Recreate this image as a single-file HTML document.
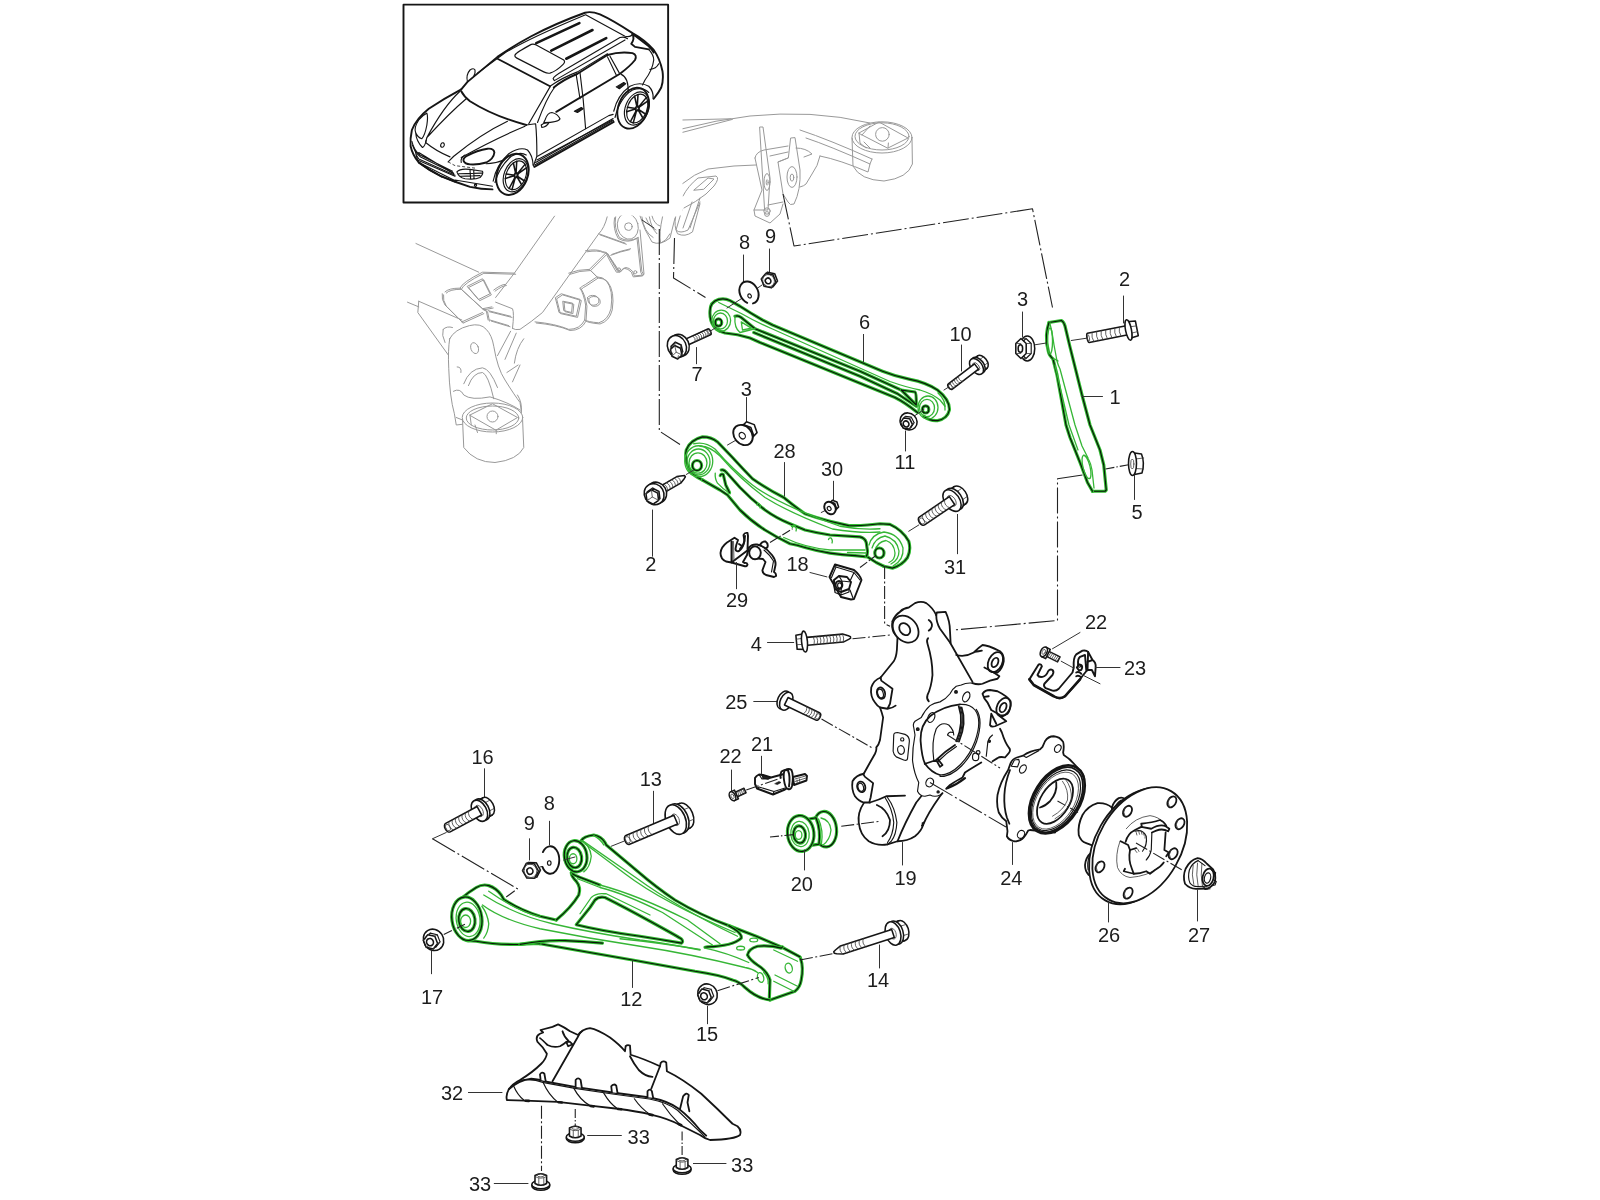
<!DOCTYPE html>
<html lang="en"><head><meta charset="utf-8"><title>Rear axle parts diagram</title><style>
html,body{margin:0;padding:0;background:#fff}
svg{display:block}
svg *{vector-effect:non-scaling-stroke}
path,ellipse,circle,line,polyline,polygon,rect{fill:none;stroke:#151515;stroke-width:1.15;stroke-linecap:round;stroke-linejoin:round}
.b{stroke-width:1.9}
.m{stroke-width:1.55}
.k{stroke-width:1.15;stroke:#0a140a}
.bb{stroke-width:2.6}
.t{stroke-width:.8;stroke:#3a3a3a}
.y{stroke:#999;stroke-width:1.0}
.G{stroke:#30bb30;stroke-width:3.2}
.I{stroke:#36b636;stroke-width:1.3}
.d{stroke:#222;stroke-width:1.1;stroke-dasharray:26 3 2 3;stroke-linecap:butt}
.d2{stroke:#222;stroke-width:1.1;stroke-dasharray:13 2.5 2 2.5;stroke-linecap:butt}
.d3{stroke:#222;stroke-width:1.1;stroke-dasharray:9 2 1.5 2;stroke-linecap:butt}
#knuckle .b,#bearing24 .b,#hub26 .b,#nut27 .b,#shield32 .b{stroke-width:1.8}
#knuckle .bb{stroke-width:2.2}
.ds{stroke:#333;stroke-width:.9;stroke-dasharray:3 2;stroke-linecap:butt}
.w{fill:#fff}
.f{fill:#222}
.ld{stroke:#333;stroke-width:1}
text{font:20px "Liberation Sans",sans-serif;fill:#1c1c1c;stroke:none;text-anchor:middle}
</style></head><body>
<svg width="1600" height="1200" viewBox="0 0 1600 1200">
<defs><filter id="gs" x="0" y="0" width="1600" height="1200" filterUnits="userSpaceOnUse" color-interpolation-filters="sRGB"><feColorMatrix type="saturate" values="0"/></filter></defs>
<rect x="0" y="0" width="1600" height="1200" style="fill:#fff;stroke:none"/>
<!-- 10_gray.svg -->
<g transform="translate(640,90) scale(0.2)">
<path class="y" d="M212,150 L455,144 M212,194 Q380,150 550,130 Q700,115 850,122 Q1000,130 1150,165 M212,212 L462,147"/>
<ellipse class="y" cx="1210" cy="237" rx="150" ry="78"/>
<ellipse class="y" cx="1210" cy="232" rx="135" ry="68"/>
<path class="y" d="M1060,240 L1065,380 Q1100,450 1220,455 Q1340,440 1362,370 L1360,240"/>
<path class="y" d="M1095,215 L1195,160 L1340,240 L1240,290 Z M1095,215 L1100,265 L1130,290 M1240,290 L1242,265 M1120,260 L1150,290 M1110,225 L1150,180"/>
<circle class="y" cx="1212" cy="222" r="34"/>
<path class="y" d="M800,200 Q950,250 1160,345 M830,240 Q950,280 1150,370 L1140,410 Q1000,350 900,330 M1150,370 L1160,345 M900,330 Q890,380 860,420 L830,470 Q820,480 800,485 M780,290 Q830,290 860,320 L820,335"/>
<path class="y" d="M600,185 L615,185 L650,440 L640,600 L625,600 Z M575,340 Q580,310 620,300 L740,280 M575,340 L610,500 L570,600 L575,630 L650,665 L700,620 L715,570 M570,600 L625,600 M640,575 L715,560 M650,330 L740,310 M690,360 L740,340"/>
<path class="y" d="M755,240 L775,238 L800,400 Q805,500 770,570 Q750,580 740,560 L715,520 L690,360 L740,340 Z"/>
<ellipse class="y" cx="760" cy="435" rx="25" ry="52"/><ellipse class="y" cx="760" cy="438" rx="9" ry="18"/>
<ellipse class="y" cx="635" cy="460" rx="15" ry="42"/><ellipse class="y" cx="636" cy="462" rx="5" ry="14"/>
<circle class="y" cx="635" cy="605" r="16"/><circle class="y" cx="635" cy="620" r="12"/>
<path class="y" d="M210,470 Q270,420 340,395 L470,380 L580,375 M270,500 L340,440 L370,445 L320,495 Z M215,530 Q240,480 290,440 L380,430 Q400,440 370,480 L330,520 Q280,560 220,590 M300,540 L250,690 M210,600 L180,700 Q200,720 240,700 L300,560 M260,560 L215,690"/>
<path class="y" d="M0,630 Q20,700 60,760 Q100,780 150,740 L175,640 M0,700 L20,920 M30,640 Q50,690 80,700 M60,630 Q70,670 100,680"/>
</g>
<g transform="translate(400,200) scale(0.1875)">
<path class="y" d="M85,232 L420,385 M40,545 L100,570 M100,540 L95,600 L260,830 M100,540 L330,640"/>
<path class="y" d="M825,85 L610,390 L510,520 M1105,90 Q1090,150 1060,180 L760,600 Q700,650 640,690 Q615,695 600,685 M510,545 L600,580 Q610,600 600,685"/>
<path class="y" d="M320,470 Q330,440 440,385 L610,390 M240,490 Q260,470 320,470 L440,580 L490,570 M360,460 L440,420 L480,500 L420,530 Z M225,500 Q220,530 240,560 L330,650 M440,580 L460,590 L470,640 M470,590 L590,620 M480,640 L580,670 M500,480 Q540,450 560,450 M330,650 L440,600"/>
<path class="y" transform="translate(7,6)" d="M320,470 Q330,440 440,385 L610,390 M240,490 Q260,470 320,470 L440,580 L490,570 M360,460 L440,420 L480,500 L420,530 Z M225,500 Q220,530 240,560 L330,650 M440,580 L460,590 L470,640 M470,590 L590,620 M480,640 L580,670 M500,480 Q540,450 560,450 M330,650 L440,600"/>
<path class="y w" d="M265,740 Q290,690 370,670 Q430,655 460,690 Q490,720 500,780 Q520,900 560,960 Q610,1040 640,1080 Q650,1120 645,1160 L300,1200 L290,1140 Q265,1050 260,900 Q255,800 265,740Z"/>
<ellipse class="y" cx="398" cy="790" rx="20" ry="30" transform="rotate(-20 398 790)"/>
<path class="y" d="M305,890 Q330,890 325,920 M340,980 Q370,900 440,895 Q480,900 520,1000 M365,990 Q390,920 440,920 Q470,930 500,1060 M285,1020 Q320,1000 340,1040 Q380,1070 480,1050 Q580,1080 640,1120 M230,690 Q220,720 240,760 M230,690 Q250,670 280,680"/>
<path class="y" d="M520,830 L590,700 M560,850 L620,710 M610,870 Q620,790 660,740 M570,920 L630,880 M600,970 L640,880"/>
<path class="y" d="M720,650 Q830,660 900,690 Q960,690 985,640 L990,560 Q980,500 960,470 M985,640 Q1000,650 1060,655 Q1110,640 1125,580 Q1140,480 1100,430 Q1080,410 1050,410 L990,450 Q970,460 960,470 M1000,520 Q1010,505 1040,510 Q1065,520 1060,545 Q1050,565 1020,560 Q1000,550 1000,520 M830,520 L860,500 L960,530 L940,620 L850,600 Z M870,540 L920,550 L915,600 L875,590Z M900,390 Q950,370 1010,370 L1050,410 M1010,370 L1100,280 M1060,180 L1200,230 M990,270 Q1050,260 1080,275 L1100,280 Q1140,340 1160,370"/>
<path class="y" transform="translate(7,6)" d="M720,650 Q830,660 900,690 Q960,690 985,640 L990,560 Q980,500 960,470 M985,640 Q1000,650 1060,655 Q1110,640 1125,580 Q1140,480 1100,430 Q1080,410 1050,410 L990,450 Q970,460 960,470 M1000,520 Q1010,505 1040,510 Q1065,520 1060,545 Q1050,565 1020,560 Q1000,550 1000,520 M830,520 L860,500 L960,530 L940,620 L850,600 Z M870,540 L920,550 L915,600 L875,590Z M900,390 Q950,370 1010,370 L1050,410 M1010,370 L1100,280 M1060,180 L1200,230 M990,270 Q1050,260 1080,275 L1100,280 Q1140,340 1160,370"/>
<ellipse class="y" cx="1215" cy="140" rx="55" ry="70" transform="rotate(-15 1215 140)"/><circle class="y" cx="1218" cy="142" r="20"/>
<path class="y" d="M1150,90 Q1140,150 1170,200 Q1220,230 1270,200 M1270,200 L1290,380 L1300,400 L1250,405 L1240,380 Q1200,340 1180,380 L1160,380 Q1130,330 1110,290 M1130,290 Q1180,270 1230,260"/>
<path class="y" transform="translate(-6,5)" d="M1150,90 Q1140,150 1170,200 Q1220,230 1270,200 M1270,200 L1290,380 L1300,400 L1250,405 L1240,380 Q1200,340 1180,380 L1160,380 Q1130,330 1110,290 M1130,290 Q1180,270 1230,260"/>
<circle class="y" cx="1168" cy="370" r="8"/><circle class="y" cx="1255" cy="385" r="8"/>
<path class="y" d="M1290,90 Q1300,170 1350,200 M1330,90 Q1340,150 1370,180 M1400,90 Q1380,180 1390,230 Q1420,220 1440,180 M1470,90 Q1460,140 1480,180 Q1520,200 1560,170 L1600,20"/>
</g>
<g transform="translate(400,200) scale(0.25)">
<path class="y w" d="M250,875 L255,990 Q300,1050 380,1050 Q470,1040 495,990 L490,870Z"/>
<ellipse class="y w" cx="370" cy="870" rx="121" ry="58"/>
<ellipse class="y" cx="370" cy="872" rx="105" ry="48"/>
<path class="y" d="M280,860 L370,815 L470,870 L385,920 Z M280,860 L285,900 M385,920 L385,935 M300,900 L310,930"/>
<circle class="y" cx="370" cy="866" r="22"/>
<path class="y" d="M225,870 L250,880 M470,780 Q490,810 485,850"/>
</g>

<!-- 20_car.svg -->
<rect x="390" y="0" width="292.5" height="215.5" style="fill:#fff;stroke:none"/>
<g transform="translate(400,0) scale(0.125)">
<rect class="b" x="28" y="37" width="2117" height="1583"/>
<path class="b" d="M490,715 L540,655 L780,455 Q900,370 1050,290 Q1250,185 1480,102 Q1530,88 1600,115 Q1700,160 1860,265 Q1960,320 2030,400 Q2080,470 2100,570 Q2110,640 2090,700 Q2070,740 2030,790"/>
<path d="M620,585 L830,430 Q1000,320 1480,120"/>
<path class="b" d="M490,730 Q510,770 560,810 Q750,930 1010,1000"/>
<path class="b" d="M780,470 L1200,690"/>
<path d="M1200,695 L1030,990 M1235,700 Q1170,790 1100,980"/>
<path d="M920,440 Q930,420 1050,355 Q1070,350 1090,360 L1310,480 Q1325,495 1305,515 Q1250,570 1200,585 Q1180,590 1150,575 L935,465 Q915,455 920,440Z"/>
<path class="bb" d="M1090,345 L1435,185 M1210,405 L1540,240 M1330,470 L1650,305"/>
<path d="M1225,630 Q1230,610 1300,570 L1760,300 Q1800,290 1820,310 M1235,645 L1800,320 M1225,630 L1235,645 M1200,690 Q1300,620 1420,575 L1660,430"/>
<path d="M1485,118 L1800,290 Q1850,300 1860,270"/>
<path class="b" d="M1860,270 Q1880,310 1850,350 L1880,375 L1990,395 M1860,270 L1990,370 Q2020,400 2030,420"/>
<path d="M1990,395 Q2030,440 2030,480 Q2020,560 1960,640 L1940,680 M2000,555 Q2050,550 2070,510"/>
<path d="M540,655 Q525,600 560,560 Q590,540 600,560 Q605,580 590,610"/>
<path class="b" d="M490,715 Q350,790 230,870 Q130,950 95,1040 Q80,1110 85,1170 Q100,1240 150,1300 Q230,1360 330,1410 Q450,1460 560,1495 Q650,1515 740,1515"/>
<path d="M215,905 Q225,930 215,1000 Q200,1080 175,1110 Q140,1100 125,1060 Q110,1020 150,960 Q180,920 215,905 M125,1060 Q130,1130 180,1180 Q200,1170 210,1120"/>
<path d="M480,730 Q350,850 215,1100 M530,790 Q400,900 215,1100 L205,1140 Q290,1210 400,1255"/>
<path d="M860,970 Q650,1070 430,1250 L385,1295 M1000,1010 Q760,1110 490,1260"/>
<path class="ds" d="M385,1295 L440,1325 L600,1345"/>
<path class="b" d="M510,1290 Q500,1270 530,1250 Q620,1200 700,1190 Q750,1185 755,1220 Q750,1270 690,1300 Q620,1320 560,1315 Q520,1310 510,1290Z"/>
<path d="M490,1300 Q480,1265 520,1240 M690,1310 Q760,1310 830,1280"/>
<path d="M95,1130 Q110,1200 160,1240 L420,1370 M150,1220 L430,1390 M140,1280 L440,1410 M120,1200 L140,1280"/>
<path d="M455,1375 Q480,1345 560,1355 L660,1370 Q670,1390 640,1420 Q600,1440 520,1430 Q470,1420 455,1375Z M470,1390 L655,1385 M480,1410 L640,1405 M560,1360 L565,1430 M590,1365 L592,1430"/>
<path d="M100,1160 Q120,1222 165,1256 L425,1382 M130,1240 L150,1272 L440,1402 M180,1322 L222,1346 M240,1360 L312,1400 M330,1412 L440,1456"/>
<path class="b" d="M150,1300 Q230,1362 330,1412"/>
<path d="M1085,1300 L1705,948 M1080,1318 L1708,962"/>
<circle cx="604" cy="1482" r="9"/>
<path d="M440,1440 L740,1490 M150,1300 L450,1450 M600,1480 L610,1470"/>
<path d="M745,1450 Q770,1320 870,1230 Q960,1170 1020,1200 Q1060,1240 1065,1320 M760,1460 Q790,1340 890,1250 Q960,1210 1010,1240"/>
<ellipse class="b" cx="900" cy="1395" rx="122" ry="170" transform="rotate(22 900 1395)"/>
<ellipse cx="925" cy="1402" rx="92" ry="138" transform="rotate(22 925 1402)"/>
<ellipse cx="928" cy="1402" rx="78" ry="120" transform="rotate(22 928 1402)"/>
<path class="m" d="M935,1408 L993,1446 M934,1410 L973,1478 M923,1416 L896,1517 M922,1415 L873,1508 M918,1404 L843,1428 M918,1402 L849,1392 M926,1390 L907,1304 M928,1389 L934,1290 M937,1392 L1000,1315 M938,1394 L1011,1343"/><ellipse class="m" cx="928" cy="1402" rx="14" ry="20" transform="rotate(22 928 1402)"/>
<path d="M1010,1000 L1085,990 Q1095,1080 1095,1250 L1070,1320"/>
<path class="w" d="M1160,960 Q1180,900 1215,900 Q1260,910 1280,950 Q1270,980 1150,980Z"/>
<path d="M1130,1000 Q1150,980 1190,985 Q1170,1015 1135,1020Z"/>
<path class="b" d="M1250,895 L1760,590 Q1840,530 1880,480 Q1900,440 1860,425 Q1760,410 1660,440 L1420,590 Q1300,640 1230,700"/>
<path d="M1410,600 L1440,790 M1440,580 Q1470,800 1485,1030 M1680,450 L1755,585 M1660,455 L1730,600 M1770,595 Q1830,620 1825,740"/>
<path d="M1710,890 Q1740,760 1840,690 Q1920,650 1990,690 Q2030,730 2025,790 M1720,940 Q1760,780 1860,720 Q1940,690 1990,740"/>
<ellipse class="b" cx="1865" cy="865" rx="118" ry="170" transform="rotate(22 1865 865)"/>
<ellipse cx="1895" cy="868" rx="92" ry="138" transform="rotate(22 1895 868)"/>
<ellipse cx="1898" cy="868" rx="78" ry="120" transform="rotate(22 1898 868)"/>
<path class="m" d="M1905,874 L1963,912 M1904,876 L1943,944 M1893,882 L1866,983 M1892,881 L1843,974 M1888,870 L1813,894 M1888,868 L1819,858 M1896,856 L1877,770 M1898,855 L1904,756 M1907,858 L1970,781 M1908,860 L1981,809"/><ellipse class="m" cx="1898" cy="868" rx="14" ry="20" transform="rotate(22 1898 868)"/>
<path d="M1100,1250 L1670,925 L1705,915 M1095,1280 L1700,960"/>
<path class="b" d="M1075,1335 L1710,975"/>
<path d="M1065,1320 L1075,1335"/>
<path class="f" d="M1395,890 L1450,860 L1465,870 L1420,900Z M1730,695 L1790,660 L1805,670 L1755,710Z"/>
<ellipse cx="340" cy="1160" rx="14" ry="18" transform="rotate(20 340 1160)"/>
</g>

<!-- 30_arms.svg -->
<g id="arm6">
<path class="w" style="stroke:none" d="M710,311 Q710,302 718.75,299.4 Q725,298 730,300.6 L740,306.25 Q752,314 762.5,320 L772.5,325 L882.5,371.25 Q895,376.25 910,379.4 Q926,382.5 937.5,390 Q950,400 949.4,410 Q947.5,418.75 937.5,420.6 Q930,421.25 923.75,416.25 L917.5,412.5 Q905,402.5 895,397.5 L760,342.5 L750,338 Q737.5,334 725,333 L720,331.25 Q716,330 713.75,326.25 Q709.4,320 710,311Z"/>
<path class="G" d="M720,331.25 Q716,330 713.75,326.25 Q709.4,320 710,311 Q710,302 718.75,299.4 Q725,298 730,300.6 L740,306.25 Q752,314 762.5,320 L772.5,325 L882.5,371.25 Q895,376.25 910,379.4 Q926,382.5 937.5,390 Q950,400 949.4,410 Q947.5,418.75 937.5,420.6 Q930,421.25 923.75,416.25"/><path class="k" d="M720,331.25 Q716,330 713.75,326.25 Q709.4,320 710,311 Q710,302 718.75,299.4 Q725,298 730,300.6 L740,306.25 Q752,314 762.5,320 L772.5,325 L882.5,371.25 Q895,376.25 910,379.4 Q926,382.5 937.5,390 Q950,400 949.4,410 Q947.5,418.75 937.5,420.6 Q930,421.25 923.75,416.25"/>
<path class="G" d="M720,331.25 L725,333 Q737.5,334 750,338 L760,342.5 L895,397.5 Q905,402.5 917.5,412.5"/><path class="k" d="M720,331.25 L725,333 Q737.5,334 750,338 L760,342.5 L895,397.5 Q905,402.5 917.5,412.5"/>
<path class="I" d="M718.75,302.5 L741.25,313.5 Q757,322.5 772.5,329 L890,381.5 Q907,387.5 920,390 Q932,393.5 940,400 L945,406.25"/>
<path class="G" d="M735,316.25 Q738,315 741.25,317.5 L755,328.75 L860,371.25 L900,389.5"/><path class="k" d="M735,316.25 Q738,315 741.25,317.5 L755,328.75 L860,371.25 L900,389.5"/>
<path class="I" d="M755,328.75 L740,332.5 Q734,328 735,316.25 M741.25,321.9 L751.25,328.1 L742.5,330Z"/>
<path class="G" d="M753.75,332.5 L860,376.25 L897.5,393.75 L916.25,406.25"/><path class="k" d="M753.75,332.5 L860,376.25 L897.5,393.75 L916.25,406.25"/>
<path class="G" d="M901.25,390 L915,392 Q916.5,393 916.25,405 Z"/><path class="k" d="M901.25,390 L915,392 Q916.5,393 916.25,405 Z"/>
<ellipse class="I" cx="721.25" cy="320.6" rx="9.4" ry="10.5"/>
<ellipse class="I" cx="720.5" cy="321" rx="7" ry="8"/>
<ellipse class="G" cx="718.5" cy="322.5" rx="3.2" ry="3.6"/><ellipse class="k" cx="718.5" cy="322.5" rx="3.2" ry="3.6"/>
<ellipse class="I" cx="928" cy="407.5" rx="10" ry="11.5"/>
<ellipse class="I" cx="927" cy="408" rx="7.5" ry="8.7"/>
<ellipse class="G" cx="925.6" cy="409.4" rx="3.2" ry="3.6"/><ellipse class="k" cx="925.6" cy="409.4" rx="3.2" ry="3.6"/>
<path class="I" d="M938,393 Q946,400 945,410"/>
</g>
<g id="arm28">
<path class="w" style="stroke:none" d="M686.25,450 Q690,440 702.5,436.9 Q711.25,436.9 717.5,441.9 L732.5,457.5 Q742,468 752.5,478.75 Q767,489 783.75,497.5 Q794,506 805,513.75 Q817,518 830,521.25 L848.75,525.6 Q858,526 867.5,525 L880,523.75 L890,524.4 Q902.5,530 908.75,541.25 Q911.25,550 907.5,557.5 Q902.5,565 892.5,568.1 L883.75,566.25 L876.25,562.5 L867.5,556.9 L855,555.6 Q842,555 830,553.1 Q817,551 805,547.5 Q797,545 790,543.75 Q776,537 765,530 Q751,521 740,510 L727.5,495 L720,490 L702.5,480 Q693.75,476.25 688.75,468.75 Q684.4,460 686.25,450Z"/>
<path class="G" d="M702.5,480 Q693.75,476.25 688.75,468.75 Q684.4,460 686.25,450 Q690,440 702.5,436.9 Q711.25,436.9 717.5,441.9 L732.5,457.5 Q742,468 752.5,478.75 Q767,489 783.75,497.5 Q794,506 805,513.75 Q817,518 830,521.25 L848.75,525.6 Q858,526 867.5,525 L880,523.75 L890,524.4 Q902.5,530 908.75,541.25 Q911.25,550 907.5,557.5 Q902.5,565 892.5,568.1 L883.75,566.25"/><path class="k" d="M702.5,480 Q693.75,476.25 688.75,468.75 Q684.4,460 686.25,450 Q690,440 702.5,436.9 Q711.25,436.9 717.5,441.9 L732.5,457.5 Q742,468 752.5,478.75 Q767,489 783.75,497.5 Q794,506 805,513.75 Q817,518 830,521.25 L848.75,525.6 Q858,526 867.5,525 L880,523.75 L890,524.4 Q902.5,530 908.75,541.25 Q911.25,550 907.5,557.5 Q902.5,565 892.5,568.1 L883.75,566.25"/>
<path class="G" d="M702.5,480 L720,490 L727.5,495 L740,510 Q751,521 765,530 Q776,537 790,543.75 Q797,545 805,547.5 Q817,551 830,553.1 Q842,555 855,555.6 L867.5,556.9 L876.25,562.5 L883.75,566.25"/><path class="k" d="M702.5,480 L720,490 L727.5,495 L740,510 Q751,521 765,530 Q776,537 790,543.75 Q797,545 805,547.5 Q817,551 830,553.1 Q842,555 855,555.6 L867.5,556.9 L876.25,562.5 L883.75,566.25"/>
<path class="G" d="M721.25,470 Q724,469 727,473 L740,487.5 Q751,499 765,510 Q776,518 790,523.75 L805,530 Q817,533 830,535 L860,536.9 Q865,538.1 866.25,542.5 L867.5,551.25 Q867.5,555 866.25,556.25"/><path class="k" d="M721.25,470 Q724,469 727,473 L740,487.5 Q751,499 765,510 Q776,518 790,523.75 L805,530 Q817,533 830,535 L860,536.9 Q865,538.1 866.25,542.5 L867.5,551.25 Q867.5,555 866.25,556.25"/>
<path class="I" d="M693.75,443.75 Q705,441 715,449 Q733,470 752.5,485 Q777,504 840,526.25 Q860,530 880,528.75"/>
<path class="I" d="M700,446.25 Q710,446 720,456 Q740,479 765,497.5 Q790,513 832.5,529 Q860,533.5 880,532"/>
<path class="I" d="M715.25,473.1 Q714.75,478.75 717.5,483.1 Q722.5,488.75 730.25,493.75"/><path class="G" d="M720.25,475.6 Q721.25,473.5 723.25,474.5 L725.75,485 L729.5,492.5"/><path class="k" d="M720.25,475.6 Q721.25,473.5 723.25,474.5 L725.75,485 L729.5,492.5"/>
<path class="I" d="M783.75,537.5 Q805,547.5 830,550 L865,550 M847.5,552.5 L866,553"/>
<ellipse class="I" cx="698.75" cy="461.25" rx="14" ry="15.5"/>
<ellipse class="I" cx="698.5" cy="462" rx="11.5" ry="13"/>
<ellipse class="I" cx="698" cy="463" rx="9" ry="10.2"/>
<ellipse class="G" cx="697" cy="465.5" rx="4.6" ry="5"/><ellipse class="k" cx="697" cy="465.5" rx="4.6" ry="5"/>
<path class="I" d="M869,545 Q872,534 884,532 Q899,534 903,548 Q904,560 893,566 M872,548 Q875,538 885,536 Q897,539 899,551 Q899,560 891,564 M875,551 Q877,542 886,540.5 Q894,543 895,553 Q895,560 889,562.5"/>
<ellipse class="G" cx="879.4" cy="553" rx="4.6" ry="5"/><ellipse class="k" cx="879.4" cy="553" rx="4.6" ry="5"/>
<path class="I" d="M757,505 Q757.5,503 759,503.5 Q761,505 760,508 M792.5,527.5 Q793,525.5 795,526 Q797,528 796,531 M828.5,539.5 Q829,537.7 831,538 Q833,540 832,543 M791.5,526.5 Q793,524.5 795,525.5"/>
</g>
<g id="arm1">
<path class="w" style="stroke:none" d="M1049,322.5 L1061.5,320.5 Q1064,322 1065,326 L1070,347 L1082,395 L1090,425 L1100,450 L1103.75,465 L1106.25,490 L1105,491.25 L1092.5,491.25 L1087.5,482.5 L1080,462.5 L1070,437.5 L1066,425 L1057,375 L1053,359 Q1049,355 1048.5,352 Q1046,343 1046.5,335 Q1047,328 1049,322.5Z"/>
<path class="G" d="M1049,322.5 L1061.5,320.5 Q1064,322 1065,326 L1070,347 L1082,395 L1090,425 L1100,450 L1103.75,465 L1106.25,490 L1105,491.25 L1092.5,491.25"/><path class="k" d="M1049,322.5 L1061.5,320.5 Q1064,322 1065,326 L1070,347 L1082,395 L1090,425 L1100,450 L1103.75,465 L1106.25,490 L1105,491.25 L1092.5,491.25"/>
<path class="G" d="M1049,322.5 Q1047,328 1046.5,335 Q1046,343 1048.5,352 Q1049,355 1053,359 L1057,375 L1066,425 L1070,437.5 L1080,462.5 L1087.5,482.5 L1092.5,491.25"/><path class="k" d="M1049,322.5 Q1047,328 1046.5,335 Q1046,343 1048.5,352 Q1049,355 1053,359 L1057,375 L1066,425 L1070,437.5 L1080,462.5 L1087.5,482.5 L1092.5,491.25"/>
<path class="I" d="M1050,324 Q1052,331 1054,345 L1057,361 Q1058,365 1060,369 L1075,425 L1082,446 L1088,458"/>
<path class="I" d="M1053,359 Q1056,359 1058,361 M1055,365 L1069,425 L1078,450"/>
<ellipse class="I" cx="1050" cy="341" rx="2.5" ry="13"/>
<ellipse class="I" cx="1086.5" cy="467" rx="3.5" ry="12" transform="rotate(-14 1086.5 467)"/>
<path class="I" d="M1084,455 Q1090,458 1092,470 L1094,488"/>
</g>

<!-- 32_arm12.svg -->
<g id="arm12" transform="translate(440,820) scale(0.125)">
<path class="w" style="stroke:none" d="M120,690 Q160,620 290,540 Q340,510 390,525 Q450,545 490,600 L510,635 Q640,720 800,770 L930,800 Q1050,700 1110,600 Q1130,540 1090,490 Q1050,450 1050,420 L1000,350 L1000,230 L1130,165 Q1150,130 1230,120 Q1290,130 1320,180 L1330,200 L1580,410 Q1730,540 1880,640 Q2080,760 2310,845 L2530,930 L2740,1020 L2880,1095 L2885,1110 Q2910,1180 2890,1280 Q2880,1340 2840,1370 L2640,1440 Q2540,1430 2440,1340 Q2390,1290 2340,1280 Q2240,1240 2040,1210 L1540,1120 L800,990 Q720,985 640,995 Q450,1000 290,970 L215,965 L100,850 L95,760 Z"/>
<path class="G" d="M120,690 Q160,620 290,540 Q340,510 390,525 Q450,545 490,600 L510,635 Q640,720 800,770 L930,800"/><path class="k" d="M120,690 Q160,620 290,540 Q340,510 390,525 Q450,545 490,600 L510,635 Q640,720 800,770 L930,800"/>
<path class="G" d="M930,800 Q1050,700 1110,600 Q1130,540 1090,490 Q1050,450 1050,420"/><path class="k" d="M930,800 Q1050,700 1110,600 Q1130,540 1090,490 Q1050,450 1050,420"/>
<path class="G" d="M1130,165 Q1150,130 1230,120 Q1290,130 1320,180 L1330,200 L1580,410 Q1730,540 1880,640 Q2080,760 2310,845 L2530,930 L2740,1020 L2880,1095 L2885,1110"/><path class="k" d="M1130,165 Q1150,130 1230,120 Q1290,130 1320,180 L1330,200 L1580,410 Q1730,540 1880,640 Q2080,760 2310,845 L2530,930 L2740,1020 L2880,1095 L2885,1110"/>
<path class="G" d="M2885,1110 Q2910,1180 2890,1280 Q2880,1340 2840,1370 L2640,1440"/><path class="k" d="M2885,1110 Q2910,1180 2890,1280 Q2880,1340 2840,1370 L2640,1440"/>
<path class="G" d="M2640,1440 Q2540,1430 2440,1340 Q2390,1290 2340,1280 Q2240,1240 2040,1210 L1540,1120 L800,990"/><path class="k" d="M2640,1440 Q2540,1430 2440,1340 Q2390,1290 2340,1280 Q2240,1240 2040,1210 L1540,1120 L800,990"/>
<path class="G" d="M215,965 L290,970 Q450,1000 640,995 Q720,985 800,990"/><path class="k" d="M215,965 L290,970 Q450,1000 640,995 Q720,985 800,990"/>
<path class="G" d="M640,995 Q820,960 1000,965 Q1150,970 1300,985"/><path class="k" d="M640,995 Q820,960 1000,965 Q1150,970 1300,985"/>
<path class="G" d="M1090,838 L1200,700 L1240,640 Q1270,610 1320,620 Q1480,700 1680,810 Q1880,920 1930,950 Q1950,975 1932,985 Q1760,955 1600,930 Q1300,890 1090,838Z"/><path class="k" d="M1090,838 L1200,700 L1240,640 Q1270,610 1320,620 Q1480,700 1680,810 Q1880,920 1930,950 Q1950,975 1932,985 Q1760,955 1600,930 Q1300,890 1090,838Z"/>
<path class="G" d="M2310,845 Q2420,905 2410,945 Q2340,1010 2140,1015 L2120,1018"/><path class="k" d="M2310,845 Q2420,905 2410,945 Q2340,1010 2140,1015 L2120,1018"/>
<path class="G" d="M2460,1080 Q2470,1030 2540,1010 Q2640,1000 2730,1025 L2740,1015 M2460,1080 Q2480,1120 2540,1160 Q2620,1210 2640,1280 L2635,1420"/><path class="k" d="M2460,1080 Q2470,1030 2540,1010 Q2640,1000 2730,1025 L2740,1015 M2460,1080 Q2480,1120 2540,1160 Q2620,1210 2640,1280 L2635,1420"/>
<path class="G" d="M1060,430 Q1080,445 1110,455 L1280,520"/><path class="k" d="M1060,430 Q1080,445 1110,455 L1280,520"/>
<path class="I" d="M350,600 Q600,760 900,830 Q1200,900 1600,960 Q1800,985 2080,1040"/>
<path class="I" d="M390,570 Q600,720 800,775"/>
<path class="I" d="M340,680 Q500,800 800,870 Q1200,950 1600,1010 Q2000,1070 2440,1180 Q2500,1190 2540,1220"/>
<path class="I" d="M1140,165 L1580,470 Q1880,690 2380,930"/>
<path class="I" d="M1160,190 L1480,430 Q1780,660 2360,900"/>
<path class="I" d="M1280,520 Q1580,600 1980,800 L2240,990"/>
<path class="I" d="M1100,470 L1280,540 Q1480,590 1780,740 L2180,1000"/>
<path class="I" d="M1120,750 L1210,620 Q1250,585 1310,590 L1330,590 L1680,760"/>
<path class="I" d="M1440,950 Q1740,980 2080,1035 M2120,1025 Q2290,1060 2470,1140 M2670,1040 L2860,1130 M2680,1240 L2860,1330 M2670,1290 L2830,1370 M2590,1220 Q2630,1260 2625,1310"/>
<ellipse class="I" cx="2510" cy="960" rx="32" ry="15"/><ellipse class="I" cx="2405" cy="1025" rx="32" ry="15"/>
<ellipse class="I" cx="2790" cy="1185" rx="28" ry="40" transform="rotate(-15 2790 1185)"/><ellipse class="I" cx="2565" cy="1260" rx="24" ry="40" transform="rotate(-15 2565 1260)"/>
<ellipse class="G w" cx="215" cy="790" rx="120" ry="175" transform="rotate(-8 215 790)"/><ellipse class="k" cx="215" cy="790" rx="120" ry="175" transform="rotate(-8 215 790)"/>
<ellipse class="I" cx="225" cy="795" rx="95" ry="138" transform="rotate(-8 225 795)"/>
<ellipse class="G" cx="215" cy="800" rx="65" ry="92" transform="rotate(-8 215 800)"/><ellipse class="k" cx="215" cy="800" rx="65" ry="92" transform="rotate(-8 215 800)"/>
<ellipse class="I" cx="205" cy="810" rx="40" ry="50"/>
<path class="I" d="M335,690 Q380,750 390,830 Q385,900 350,945"/>
<ellipse class="G w" cx="1085" cy="290" rx="90" ry="125" transform="rotate(-8 1085 290)"/><ellipse class="k" cx="1085" cy="290" rx="90" ry="125" transform="rotate(-8 1085 290)"/>
<path class="I" d="M1130,165 Q1200,200 1210,290 Q1200,380 1150,415 M1230,125 Q1280,150 1310,200"/>
<ellipse class="G" cx="1075" cy="300" rx="58" ry="82" transform="rotate(-8 1075 300)"/><ellipse class="k" cx="1075" cy="300" rx="58" ry="82" transform="rotate(-8 1075 300)"/>
<ellipse class="I" cx="1065" cy="310" rx="30" ry="40"/>
</g>

<!-- 40_knuckle.svg -->
<g id="knuckle" transform="translate(850,590) scale(0.125)">
<!-- silhouette white -->
<path class="w" style="stroke:none" d="M340,250 Q360,200 400,175 Q430,145 470,140 L520,105 Q570,85 610,105 Q660,140 690,200 L695,180 L765,175 Q800,250 800,330 L805,425 L860,520 Q920,540 990,500 Q1030,460 1060,440 Q1100,440 1200,490 Q1235,520 1230,570 Q1220,630 1180,660 L1195,690 L1180,710 L1080,780 L1180,810 Q1260,850 1285,890 Q1290,950 1260,990 L1250,1050 L1200,1110 L1270,1260 Q1290,1280 1270,1305 L1240,1340 L1140,1370 L900,1500 L740,1625 L585,1880 Q570,1930 520,1970 Q460,2010 380,2010 L300,2035 Q220,2050 150,2010 Q80,1960 70,1860 Q60,1780 110,1705 L40,1650 Q10,1600 20,1530 Q50,1480 110,1470 L210,1260 L240,1200 L265,1020 L240,940 Q160,850 170,780 Q190,720 245,700 L350,570 L375,480 L380,380 Q330,300 340,250Z"/>
<g class="kb">
<path class="b" d="M340,250 Q360,200 400,175 Q430,145 470,140 L520,105 Q570,85 610,105 Q660,140 690,200 M395,180 Q410,155 450,145"/>
<path class="b" d="M690,200 L695,180 L765,175 Q800,250 800,330 L805,425"/>
<path class="b" d="M340,250 Q330,300 350,340 L380,380 L375,480 Q370,540 350,570 L245,700"/>
<path class="b" d="M690,200 Q690,260 720,310 L800,420 L980,735"/>
<ellipse class="b w" cx="445" cy="313" rx="92" ry="118" transform="rotate(-40 445 313)"/>
<ellipse class="b" cx="438" cy="313" rx="40" ry="52" transform="rotate(-35 438 313)"/>
<path class="b" d="M245,700 Q190,720 170,780 Q160,850 200,900 Q220,930 240,940 L300,950 Q340,945 365,925 M245,700 L250,725 L340,790 L320,910 L300,950"/>
<ellipse class="b" cx="248" cy="825" rx="32" ry="46" transform="rotate(-15 248 825)"/><ellipse cx="244" cy="828" rx="22" ry="36" transform="rotate(-15 244 828)"/>
<path class="b" d="M240,940 Q255,980 265,1020 L240,1200 Q230,1240 210,1260 Q215,1280 200,1310 L160,1380 L110,1470"/>
<path class="b" d="M625,385 Q610,400 620,430 Q660,560 660,680 Q650,780 620,840 Q610,870 630,890 M630,240 Q660,260 655,290 Q650,315 630,325"/>
<path class="b" d="M850,520 Q920,540 990,500 Q1030,460 1060,440 Q1100,440 1200,490 Q1235,520 1230,570 Q1220,630 1180,660 L1150,660 L1075,620 M1000,495 Q1030,490 1055,485"/>
<ellipse class="b" cx="1163" cy="577" rx="55" ry="85" transform="rotate(25 1163 577)"/><ellipse class="b" cx="1160" cy="580" rx="24" ry="40" transform="rotate(25 1160 580)"/>
<path class="b" d="M1150,660 L1195,690 L1180,710 Q1120,720 1060,750 Q1020,760 980,745"/>
<path d="M980,745 Q930,740 890,760 L850,770 Q820,790 800,830 Q770,870 720,895 Q670,905 640,925 Q600,960 570,1020 L520,1050 Q500,1070 510,1100 L520,1160 Q500,1260 500,1360 Q510,1460 550,1540 L540,1610 Q560,1650 600,1650 L640,1640 Q680,1660 720,1640 L740,1625"/>
<circle class="f" cx="848" cy="815" r="11"/><circle class="f" cx="542" cy="1113" r="11"/><circle class="f" cx="705" cy="1615" r="9"/>
<ellipse cx="930" cy="855" rx="26" ry="42" transform="rotate(25 930 855)"/><ellipse cx="650" cy="1020" rx="26" ry="42" transform="rotate(25 650 1020)"/>
<ellipse cx="638" cy="1540" rx="30" ry="36" transform="rotate(25 638 1540)"/>
<path class="b" d="M1060,830 Q1080,800 1120,800 L1180,810 Q1260,850 1285,890 Q1290,950 1260,990 Q1230,1010 1200,1000 L1130,960 M1060,830 Q1070,870 1100,900 L1130,960 M1075,855 L1110,850"/>
<ellipse class="b" cx="1228" cy="937" rx="52" ry="78" transform="rotate(25 1228 937)"/><ellipse class="b" cx="1225" cy="940" rx="24" ry="40" transform="rotate(25 1225 940)"/>
<path class="b" d="M1130,990 L1120,1080 Q1130,1100 1160,1090 L1250,1050 L1200,1010 M1130,990 L1170,1070"/>
<path class="b" d="M1200,1110 L1215,1140 Q1240,1220 1270,1260 Q1290,1280 1270,1305 L1240,1340 Q1200,1330 1180,1345 L1140,1370"/>
<path d="M1140,1160 Q1100,1190 1100,1240 L1090,1330"/><circle class="f" cx="1115" cy="1210" r="9"/>
<path class="b" d="M1050,1380 L1000,1410 Q950,1440 920,1460 L900,1500 Q860,1520 800,1560 L770,1590"/>
<path class="bb" d="M780,1585 Q850,1560 920,1505"/>
<ellipse cx="1005" cy="1335" rx="25" ry="30"/><circle cx="1025" cy="1300" r="15"/>
<!-- hub bore -->
<path class="b" d="M600,1390 Q575,1340 565,1210 Q560,1080 640,1010 Q740,930 880,915"/>
<path class="b" d="M600,1390 Q650,1460 720,1480"/>
<path d="M720,1480 Q800,1480 880,1400 Q960,1320 1000,1210 Q1060,1040 1000,960 Q960,910 880,915 M720,1492 Q810,1492 892,1408 Q972,1326 1012,1214 Q1070,1040 1010,955"/>
<path class="b" d="M600,1390 L690,1360 L720,1415 L740,1400 L700,1350 M690,1360 Q760,1290 840,1240"/><path d="M702,1374 Q772,1302 852,1252"/>
<path class="b" d="M870,930 Q915,1060 850,1210 M893,940 Q935,1060 872,1212"/><path d="M882,935 Q925,1060 861,1211"/>
<path d="M670,1360 Q650,1210 690,1110 Q730,1050 790,1080 Q830,1120 830,1160 M780,1160 Q790,1130 820,1140"/>
<!-- plate -->
<path d="M350,1160 Q350,1140 380,1140 L440,1155 Q475,1170 475,1210 L460,1350 Q455,1370 430,1360 L370,1335 Q350,1320 345,1290 Z"/>
<circle cx="418" cy="1195" r="13"/><ellipse cx="408" cy="1280" rx="27" ry="35" transform="rotate(-10 408 1280)"/>
<!-- lower ear and boss -->
<path class="b" d="M110,1470 Q50,1480 20,1530 Q10,1600 40,1650 Q70,1690 110,1700 L160,1700 M110,1480 L120,1495 L185,1545 L165,1660 L155,1695"/>
<ellipse class="b" cx="90" cy="1575" rx="32" ry="43" transform="rotate(-15 90 1575)"/><ellipse cx="86" cy="1578" rx="22" ry="33" transform="rotate(-15 86 1578)"/>
<path class="b" d="M160,1700 Q230,1680 290,1650 L440,1645"/>
<path class="b" d="M110,1705 Q60,1780 70,1860 Q80,1960 150,2010 Q220,2050 300,2035"/>
<path class="b" d="M215,1720 Q290,1750 320,1840 Q320,1930 260,1970"/>
<path d="M300,1660 Q360,1740 375,1860 Q370,1960 330,2010 L300,2035 M280,1660 Q340,1750 350,1860 Q345,1960 300,2020"/>
<path class="b" d="M300,2035 L380,2010 Q460,2010 520,1970 Q570,1930 585,1880 L580,1865 M575,1885 L590,1860"/>
<path class="b" d="M380,2010 Q440,1860 530,1700 L570,1650 M585,1880 Q620,1790 720,1650 L740,1625"/>
</g>
</g>

<!-- 42_bearing_hub.svg -->
<g id="bearing24" transform="translate(980,720) scale(0.125)">
<path class="w b" d="M225,400 L245,345 Q260,310 295,300 L345,285 Q400,245 480,235 L500,215 L520,170 Q545,130 590,130 Q640,135 665,175 Q675,210 665,260 L670,280 Q720,310 760,360 Q800,400 830,450 L600,900 L400,880 L385,885 Q370,915 350,940 Q320,975 270,970 Q230,960 215,930 L220,890 L210,810 Q170,780 150,740 Q130,680 140,600 Q160,500 225,400Z"/>
<path class="b" d="M240,400 Q200,500 195,600 Q190,700 215,780 L235,830"/>
<path d="M345,285 L370,300 L470,245 M250,370 L275,320 L310,315 L315,335 L300,375Z"/>
<ellipse cx="343" cy="392" rx="24" ry="36" transform="rotate(30 343 392)"/>
<ellipse cx="622" cy="228" rx="24" ry="33" transform="rotate(30 622 228)"/>
<ellipse cx="328" cy="915" rx="27" ry="34" transform="rotate(30 328 915)"/>
<ellipse class="w bb" cx="615" cy="635" rx="185" ry="300" transform="rotate(32 615 635)"/>
<ellipse class="b" cx="612" cy="638" rx="174" ry="286" transform="rotate(32 612 638)"/>
<ellipse cx="608" cy="642" rx="160" ry="268" transform="rotate(32 608 642)"/>
<ellipse class="t" cx="605" cy="645" rx="148" ry="252" transform="rotate(32 605 645)"/>
<ellipse class="b" cx="600" cy="650" rx="115" ry="200" transform="rotate(32 600 650)"/>
<path class="b" d="M610,500 Q620,580 560,650 Q520,690 480,700"/>
<path class="t" d="M680,470 Q740,540 730,640 Q700,730 600,790 M660,490 Q710,560 700,640 Q670,720 580,770"/>
</g>
<g id="hub26" transform="translate(1060,770) scale(0.125)">
<path class="w b" d="M415,300 Q370,260 300,265 Q220,290 180,360 Q140,440 150,520 Q165,570 210,585 L290,615 L420,420Z"/>
<path class="w b" d="M415,300 Q430,250 470,225 Q500,215 520,235 L470,330Z"/>
<path d="M440,300 Q455,260 490,240"/>
<path class="w b" d="M250,660 Q205,700 200,760 Q200,810 230,840 L260,855 L300,700Z"/>
<path d="M235,690 Q215,740 225,800"/>
<ellipse class="w b" cx="612" cy="610" rx="330" ry="500" transform="rotate(30 612 610)"/>
<ellipse class="w b" cx="638" cy="602" rx="330" ry="500" transform="rotate(30 638 602)"/>
<g>
<ellipse class="b" cx="540" cy="330" rx="32" ry="47" transform="rotate(30 540 330)"/>
<ellipse class="b" cx="895" cy="255" rx="32" ry="47" transform="rotate(30 895 255)"/>
<ellipse class="b" cx="960" cy="430" rx="32" ry="47" transform="rotate(30 960 430)"/>
<ellipse class="b" cx="905" cy="670" rx="32" ry="47" transform="rotate(30 905 670)"/>
<ellipse class="b" cx="545" cy="985" rx="32" ry="47" transform="rotate(30 545 985)"/>
<ellipse class="b" cx="320" cy="775" rx="32" ry="47" transform="rotate(30 320 775)"/>
<path class="t" d="M520,300 Q500,340 520,370 M875,225 Q855,265 875,295 M940,400 Q920,440 940,470 M885,640 Q865,680 885,710 M525,955 Q505,995 525,1025 M300,745 Q280,785 300,815"/>
</g>
<path class="t" d="M480,570 Q440,680 460,780 Q490,850 560,860 Q700,850 790,780 M530,470 Q600,380 720,365 Q790,375 830,420"/>
<path class="b" d="M485,570 L545,600 L560,640 L610,625"/>
<path class="b" d="M525,575 Q540,510 600,480 L650,455 L730,470 Q800,430 845,450 L875,470 L865,490 Q820,465 770,485 L735,500"/>
<path class="b" d="M650,430 L655,455 M650,430 Q740,420 800,400 Q830,410 850,445"/>
<path class="b" d="M845,500 L835,640 L870,660 L850,690"/>
<path class="b" d="M560,640 Q545,720 575,790 L590,830 L510,810 L520,790"/>
<path class="b" d="M590,830 Q640,830 690,810 L720,830 L760,800 Q810,770 830,740"/>
<path d="M600,490 Q660,470 690,530 Q700,600 660,650 M735,500 L730,640 Q720,690 690,720"/>
<path class="t" d="M610,500 L615,520 M630,492 L636,514 M650,492 L656,514 M668,500 L672,522 M682,520 L680,545 M600,640 L615,660 M620,630 L632,652"/>
</g>
<g id="nut27" transform="translate(1060,770) scale(0.125)">
<path class="w b" d="M1100,705 Q1040,720 1005,790 Q980,850 1000,910 Q1040,955 1100,950 L1180,948 Q1225,930 1240,890 Q1250,840 1225,795 L1175,750 Q1140,710 1100,705Z"/>
<path d="M1105,725 Q1055,745 1035,800 Q1020,860 1040,905 Q1065,935 1105,932"/>
<path class="t" d="M1065,762 Q1050,840 1070,915 M1100,745 Q1085,840 1105,930 M1135,748 Q1122,840 1140,935"/>
<path d="M1105,725 L1160,765 M1105,932 L1170,930"/>
<ellipse class="w b" cx="1185" cy="858" rx="44" ry="70" transform="rotate(12 1185 858)"/>
<ellipse cx="1180" cy="864" rx="25" ry="42" transform="rotate(12 1180 864)"/>
<path d="M1212,800 L1245,822 L1240,850 M1232,882 L1250,892 L1240,920 L1212,926 M1150,935 L1160,955 L1200,950"/>
</g>

<!-- 44_small.svg -->
<g id="clip29" transform="translate(710,520) scale(0.1)">
<path class="w b" d="M245,178 L170,225 Q110,270 105,330 Q105,390 160,415 L215,425 L340,460 Q370,470 375,445 Q370,425 345,430 L330,420 L370,350 L380,300 L395,270 Q420,240 470,245 L520,260 Q570,290 620,350 Q660,400 655,450 L640,520 Q665,535 660,560 L640,570 L560,550 Q520,530 525,500 L555,420 L530,390 L480,385 L380,300 L375,290 L380,160 L375,130 Q345,125 335,150 L345,210 Q330,280 290,310 Q260,320 255,290 Q260,250 280,200 Z"/>
<path class="b" d="M215,215 L215,422 M215,425 L380,300"/>
<path class="t" d="M235,215 L240,405 M225,215 L228,410"/>
<path class="b" d="M350,160 Q345,230 320,270 M290,240 L320,260 L300,290"/>
<ellipse class="w b" cx="450" cy="328" rx="58" ry="64"/>
<path class="w b" d="M500,248 Q520,210 555,215 Q585,235 575,270 L560,285 L520,262Z"/>
<path d="M540,300 Q600,350 635,410 L615,520"/>
</g>
<g id="part18" transform="translate(710,520) scale(0.1)">
<path class="w b" d="M1250,445 L1440,500 Q1500,550 1515,600 L1440,790 L1410,795 L1310,770 L1195,570 Z"/>
<path d="M1250,445 L1260,470 L1440,525 L1500,600 M1260,470 L1215,575 M1440,525 L1405,600 M1300,745 L1310,770 M1400,700 L1430,780"/>
<path class="w b" d="M1240,600 L1290,560 L1370,570 L1410,620 L1390,690 L1310,720 L1250,690 Z"/>
<path d="M1240,600 L1235,640 L1250,725 L1310,750 L1390,720 L1390,690 M1250,690 L1250,725 M1310,720 L1310,750 M1290,560 L1320,610 L1410,620 M1320,610 L1310,720"/>
<ellipse class="b" cx="1290" cy="650" rx="34" ry="40"/>
<ellipse cx="1296" cy="655" rx="20" ry="26"/>
</g>
<g id="clip23" transform="translate(1000,590) scale(0.125)">
<path class="w b" d="M300,610 L310,595 Q330,590 335,610 L300,680 Q310,700 340,695 Q370,690 385,650 Q400,630 420,640 Q435,655 420,680 L355,750 Q345,770 365,785 L420,805 Q450,810 470,790 L580,660 L590,620 Q585,540 610,515 L660,485 Q690,480 705,495 L740,560 Q770,580 765,620 L760,690 L735,640 L700,640 L690,650 L650,700 L640,715 L520,850 Q480,880 430,850 L270,760 L235,715 Z"/>
<path class="bb" d="M235,715 L270,760 L430,850 Q480,880 520,850 L640,715"/>
<path class="b" d="M625,600 Q620,550 640,535 L680,520 L690,640 M705,495 L700,640 M740,560 L700,575"/>
<path class="b" d="M615,620 Q630,590 650,600 Q665,615 650,640 Q630,650 615,620 M610,660 Q630,650 650,670 M610,690 Q630,680 650,700"/>
<circle cx="635" cy="605" r="12"/>
</g>
<g id="sensor21" transform="translate(715,760) scale(0.1)">
<path class="w b" d="M780,170 L900,140 L920,160 L915,205 L790,250Z"/>
<path class="t" d="M800,190 L905,160 M800,215 L910,180 M820,200 L822,235 M845,190 L848,228"/>
<path class="w b" d="M400,180 Q410,160 440,145 L480,150 L560,175 L690,140 L720,200 L740,270 L700,295 L580,345 L420,285 L400,240 Z"/>
<path d="M440,145 L470,190 L560,175 M580,345 L590,315 L700,280 M420,285 L440,270 L590,315"/>
<path class="f" d="M470,150 L560,175 L530,192 L482,186Z"/>
<path class="f" style="stroke-width:.6" d="M600,235 L640,215 L660,225 L625,245Z"/>
<path class="w b" d="M700,100 Q740,80 765,100 Q790,160 770,260 Q760,300 730,290 Q700,280 690,200 Q680,130 700,100Z"/>
<path class="b" d="M665,115 Q700,90 730,105 Q755,160 740,265 M665,115 Q650,140 655,175"/>
</g>
<g id="bushing20" transform="translate(715,760) scale(0.1)">
<ellipse class="G w" cx="1100" cy="692" rx="115" ry="178" transform="rotate(-6 1100 692)"/><ellipse class="k" cx="1100" cy="692" rx="115" ry="178" transform="rotate(-6 1100 692)"/>
<path class="I" d="M1060,580 Q1150,600 1160,700 Q1150,800 1080,850"/>
<path class="G w" d="M940,590 L1010,578 Q1060,700 1040,842 L975,852Z"/><path class="k" d="M940,590 L1010,578 Q1060,700 1040,842 L975,852Z"/>
<path class="I" d="M1035,590 Q1085,700 1065,835"/>
<ellipse class="G w" cx="857" cy="735" rx="132" ry="180" transform="rotate(-6 857 735)"/><ellipse class="k" cx="857" cy="735" rx="132" ry="180" transform="rotate(-6 857 735)"/>
<ellipse class="I" cx="850" cy="740" rx="92" ry="127" transform="rotate(-6 850 740)"/>
<ellipse class="G" cx="845" cy="745" rx="60" ry="86" transform="rotate(-6 845 745)"/><ellipse class="k" cx="845" cy="745" rx="60" ry="86" transform="rotate(-6 845 745)"/>
<ellipse class="I" cx="836" cy="750" rx="33" ry="44"/>
</g>

<!-- 46_shield.svg -->
<g id="shield32" transform="translate(500,1015) scale(0.125)">
<path class="w b" d="M55,680 Q45,640 70,595 Q100,550 160,520 Q260,460 330,390 Q370,350 375,310 Q340,250 300,215 Q280,170 320,150 L345,140 L325,120 L420,95 L465,75 Q520,100 560,130 L625,160 Q660,110 720,105 Q780,115 880,180 Q960,240 1000,290 L1005,250 Q1020,235 1040,245 L1045,318 Q1150,350 1280,410 L1285,385 Q1305,360 1330,380 L1335,450 Q1460,510 1610,630 Q1740,750 1860,870 L1900,890 Q1935,920 1920,960 Q1880,995 1680,1000 Q1640,990 1600,960 L1440,880 Q1350,830 1200,795 Q1100,770 940,750 L720,725 L460,695 L200,685 Z"/>
<path class="b" d="M320,185 Q340,200 380,240 Q430,265 480,250 Q510,235 530,215 L560,215 L580,235 M500,130 Q510,170 550,210 M530,215 L545,250 L580,235"/>
<path class="b" d="M420,530 L620,180 Q640,140 660,125 M1040,330 Q1070,390 1110,440 Q1160,490 1220,495 M1280,410 L1210,590"/>
<path class="b" d="M70,595 Q150,520 250,510 Q320,515 350,530 L600,575 L900,620 L1200,660 Q1350,690 1430,750 Q1520,820 1600,920 L1650,965"/>
<path d="M160,522 Q260,507 350,541 L600,587 L900,632 L1195,672 Q1340,700 1420,762 L1640,975"/>
<path d="M110,570 Q140,640 190,680 M345,540 Q390,640 460,695 M590,585 Q640,680 720,725 M830,625 Q880,710 940,750 M1075,670 Q1130,750 1200,795 M1300,710 Q1360,800 1440,878"/>
<path class="w b" d="M325,520 L320,475 Q335,450 355,470 L365,527 M605,575 L605,520 Q625,495 645,520 L655,582 M895,618 L890,570 Q910,545 930,565 L940,624 M1180,657 L1180,610 Q1200,585 1215,610 L1225,662"/>
<path class="b" d="M1440,752 L1465,650 Q1490,615 1510,640 L1500,700 L1515,770"/>
<path class="bb" d="M205,686 L230,687 M470,698 L495,700 M725,728 L750,731 M945,752 L970,754 M1195,796 L1220,801 M1430,872 L1450,882"/>
</g>

<!-- 60_hw.svg -->
<path class="d" d="M659.3,229 L659.3,431 L680,444.5"/>
<path class="d" d="M674.5,238 L673.5,278 L705.5,297.5"/>
<path class="d" d="M783,194 L794,246 L1032.5,208.75 L1052.5,307.5"/>
<path class="d" d="M1082.5,475 L1057.5,478.75 L1057.5,620.5 L953.75,630"/>
<path class="d3" d="M1105.5,469 L1130,464.5"/>
<path class="d3" d="M770,542.5 L792.5,528.75"/>
<path class="d3" d="M860,567.5 L875,556.25"/>
<path class="d2" d="M884.6,566 L884.6,623.75 L890,626.25"/>
<path class="d2" d="M852.5,638.75 L890,635"/>
<path class="d2" d="M821.5,719 L872.5,748"/>
<path class="d2" d="M947.5,735 L1000,768"/>
<path class="d" d="M930,782.5 L1006,827"/>
<path class="d3" d="M1057.5,801 L1079,813"/>
<path class="d2" d="M841.25,826.25 L880,821.25"/>
<path class="d3" d="M770,837 L795,834.5"/>
<path class="d2" d="M1136,843 L1182,870"/>
<path class="d" d="M432.5,838.75 L517.5,888.75 L506.25,897"/>
<path class="d3" d="M443.75,934.5 L466.25,923.75"/>
<path class="d2" d="M717.5,990.75 L758.75,977.5"/>
<path class="d2" d="M746.25,790 L782.5,777.5"/>
<path class="d2" d="M800,960 L832.5,953.75"/>
<path class="d2" d="M541.5,1105.75 L541.5,1171"/>
<path class="d3" d="M575.25,1109 L575.25,1126"/>
<path class="d3" d="M682.1,1131.6 L682.1,1156.4"/>
<path class="ld" d="M642,220 L654,228"/>
<path class="ld" d="M1033.75,345 L1046.25,343"/>
<path class="ld" d="M1071.25,340.5 L1086.25,338.25"/>
<path class="ld" d="M727.5,445 L736.25,440"/>
<path class="ld" d="M686.25,474.5 L693.75,470"/>
<path class="ld" d="M821.25,512.5 L826.25,510"/>
<path class="ld" d="M908.75,531.25 L918.75,525"/>
<path class="ld" d="M432.5,838.75 L446.25,832.5"/>
<path class="ld" d="M540,867 L547.5,865"/>
<path class="ld" d="M563.75,860 L575,857"/>
<path class="ld" d="M611.25,846.25 L623.75,841.25"/>
<path class="ld" d="M1061.25,661.25 L1073.75,668.1"/>
<path class="ld" d="M1082.5,675 L1100,683.75"/>
<path class="ld" d="M710.5,331 L716,327.5"/>
<path class="ld" d="M754,290.5 L762,285"/>
<path class="ld" d="M727,308 L745.5,296"/>
<path class="ld" d="M944,390 L949.5,386.5"/>
<path class="ld" d="M915,415.5 L924,409.5"/>
<path class="ld" d="M743.5,255 L743.5,282"/>
<path class="ld" d="M769.5,249 L769.5,273"/>
<path class="ld" d="M863.5,334.4 L863.5,361.9"/>
<path class="ld" d="M961.5,345 L961.5,371"/>
<path class="ld" d="M905.5,431 L905.5,451"/>
<path class="ld" d="M696.5,347.5 L696.5,363.75"/>
<path class="ld" d="M746.5,397.5 L746.5,423.75"/>
<path class="ld" d="M784.5,462.5 L784.5,496"/>
<path class="ld" d="M833.5,481.25 L833.5,500"/>
<path class="ld" d="M1022.5,312 L1022.5,337"/>
<path class="ld" d="M1123.5,296 L1123.5,323"/>
<path class="ld" d="M1082,396.5 L1102.5,396.5"/>
<path class="ld" d="M1134.5,475.5 L1134.5,499.5"/>
<path class="ld" d="M652.5,510 L652.5,556.25"/>
<path class="ld" d="M957.5,514.4 L957.5,553.75"/>
<path class="ld" d="M810,572.5 L826.9,576.9"/>
<path class="ld" d="M736.5,562.5 L736.5,588.75"/>
<path class="ld" d="M767.5,642.5 L793.75,642.5"/>
<path class="ld" d="M1080,632.5 L1052.5,648.75"/>
<path class="ld" d="M1095.6,667.5 L1120,667.5"/>
<path class="ld" d="M753.75,701.5 L778.75,701.5"/>
<path class="ld" d="M761.5,756.25 L761.5,773.75"/>
<path class="ld" d="M731.5,770 L731.5,791.25"/>
<path class="ld" d="M804.5,850 L804.5,870"/>
<path class="ld" d="M902.5,842.5 L902.5,865"/>
<path class="ld" d="M1012.5,842.5 L1012.5,864.5"/>
<path class="ld" d="M1108.5,902 L1108.5,922"/>
<path class="ld" d="M1197.5,890 L1197.5,921"/>
<path class="ld" d="M484.5,768.75 L484.5,798.75"/>
<path class="ld" d="M653.5,791.25 L653.5,826.25"/>
<path class="ld" d="M529.5,838.75 L529.5,860"/>
<path class="ld" d="M549.5,821.25 L549.5,845"/>
<path class="ld" d="M431.5,951.25 L431.5,973.75"/>
<path class="ld" d="M632.5,961.25 L632.5,987.5"/>
<path class="ld" d="M707.5,1006.25 L707.5,1023.75"/>
<path class="ld" d="M879.5,945 L879.5,968"/>
<path class="ld" d="M468.4,1092.5 L502,1092.5"/>
<path class="ld" d="M587.6,1135.5 L621.4,1135.5"/>
<path class="ld" d="M693.4,1163.5 L726,1163.5"/>
<path class="ld" d="M494.25,1183.5 L528,1183.5"/>
<ellipse class="w" style="stroke:none" cx="749" cy="292.6" rx="9" ry="11.6" transform="rotate(-28 749 292.6)"/>
<path class="b" d="M747.23,302.83 A9,11.6 -28 1 1 752.98,303.42"/>
<ellipse cx="749.6" cy="296" rx="1.7" ry="2.12" transform="rotate(-28 749.6 296)"/>
<path class="w m" d="M777.52,281.08 L773.01,286.7 L765.7,285.09 L762.9,277.87 L767.42,272.24 L774.73,273.85Z"/>
<path class="w m" d="M775.91,282.21 L771.4,287.83 L764.09,286.22 L761.29,278.99 L765.8,273.37 L773.11,274.98Z"/>
<path class="t" d="M775.91,282.21 L777.52,281.08 M771.4,287.83 L773.01,286.7 M764.09,286.22 L765.7,285.09 M761.29,278.99 L762.9,277.87 M765.8,273.37 L767.42,272.24 M773.11,274.98 L774.73,273.85"/>
<ellipse class="t" cx="768.6" cy="280.6" rx="5.73" ry="6.23" transform="rotate(-35 768.6 280.6)"/>
<ellipse class="m" cx="768.11" cy="280.94" rx="2.72" ry="2.95" transform="rotate(-35 768.11 280.94)"/>
<path class="w m" d="M678.72,349.21 L710.46,334.83 A1.6,3.2 -24.39 0 0 707.82,329 L676.08,343.39Z"/>
<ellipse class="t" cx="709.14" cy="331.91" rx="1.2" ry="2.3" transform="rotate(-24.39 709.14 331.91)"/>
<path class="t" d="M695.32,341.69 Q695.89,337.92 692.68,335.86 M697.48,340.71 Q698.06,336.94 694.84,334.88 M699.65,339.73 Q700.22,335.95 697.01,333.9 M701.81,338.75 Q702.38,334.97 699.17,332.92 M703.97,337.77 Q704.55,333.99 701.33,331.94 M706.14,336.79 Q706.71,333.01 703.5,330.96 M708.3,335.81 Q708.87,332.03 705.66,329.98"/>
<ellipse class="w m" cx="679.66" cy="345.27" rx="9.27" ry="11.3" transform="rotate(-24.39 679.66 345.27)"/>
<ellipse class="w m" cx="676.89" cy="346.53" rx="9.27" ry="11.3" transform="rotate(-24.39 676.89 346.53)"/>
<path class="w m" d="M682.62,351.72 L678.36,355.73 L672.6,352.96 L671.1,346.19 L675.36,342.18 L681.12,344.95Z"/>
<path class="w m" d="M681.96,354.97 L677.7,358.97 L671.94,356.2 L670.44,349.43 L674.7,345.43 L680.46,348.2Z"/>
<path class="t" d="M681.96,354.97 L682.62,351.72 M677.7,358.97 L678.36,355.73 M671.94,356.2 L672.6,352.96 M670.44,349.43 L671.1,346.19 M674.7,345.43 L675.36,342.18 M680.46,348.2 L681.12,344.95"/>
<path class="t" d="M681.96,354.97 L676.2,352.2 L671.94,356.2 M676.2,352.2 L674.7,345.43"/>
<ellipse class="w m" cx="982.2" cy="362.13" rx="4.8" ry="7.74" transform="rotate(142.49 982.2 362.13)"/>
<path class="w" d="M977.48,355.99 L971.79,360.36 L981.21,372.64 L986.91,368.27"/>
<path class="m" d="M977.48,355.99 L971.79,360.36 M986.91,368.27 L981.21,372.64"/>
<path class="t" d="M978.68,360.44 L983.18,356.98"/>
<path class="t" d="M983.05,366.35 L987.55,362.9"/>
<ellipse class="w m" cx="978.15" cy="365.23" rx="5.58" ry="9" transform="rotate(142.49 978.15 365.23)"/>
<ellipse class="w m" cx="976.5" cy="366.5" rx="5.58" ry="9" transform="rotate(142.49 976.5 366.5)"/>
<ellipse class="t" cx="976.1" cy="366.8" rx="2.85" ry="4.6" transform="rotate(142.49 976.1 366.8)"/>
<path class="w m" d="M974.49,363.88 L948.36,383.94 A2.05,3.3 142.49 0 0 952.38,389.17 L978.51,369.12Z"/>
<ellipse class="t" cx="950.37" cy="386.55" rx="1.53" ry="2.38" transform="rotate(142.49 950.37 386.55)"/>
<path class="t" d="M958.4,376.24 Q958.3,380.47 962.41,381.47 M956.39,377.78 Q956.29,382.01 960.41,383.01 M954.38,379.32 Q954.28,383.55 958.4,384.55 M952.38,380.86 Q952.28,385.09 956.4,386.09 M950.37,382.4 Q950.27,386.63 954.39,387.63"/>
<ellipse class="w m" cx="908.54" cy="421.46" rx="8.1" ry="9" transform="rotate(-45 908.54 421.46)"/>
<path class="w" d="M914.12,422.71 L910.94,427.43 L904.95,426.59 L902.14,421.04 L905.31,416.31 L911.3,417.15Z"/>
<path class="w m" d="M912.49,424.34 L909.31,429.06 L903.33,428.22 L900.51,422.66 L903.69,417.94 L909.67,418.78Z"/>
<path class="t" d="M912.49,424.34 L914.12,422.71 M909.31,429.06 L910.94,427.43 M903.33,428.22 L904.95,426.59 M900.51,422.66 L902.14,421.04 M903.69,417.94 L905.31,416.31 M909.67,418.78 L911.3,417.15"/>
<ellipse class="m" cx="906.08" cy="423.92" rx="2.75" ry="3.06" transform="rotate(-45 906.08 423.92)"/>
<ellipse class="w m" cx="1027.25" cy="348.5" rx="7.5" ry="12.5"/>
<path class="w" d="M1031.2,353.5 L1026,358.5 L1020.8,353.5 L1020.8,343.5 L1026,338.5 L1031.2,343.5Z"/>
<path class="w m" d="M1026.2,353.5 L1021,358.5 L1015.8,353.5 L1015.8,343.5 L1021,338.5 L1026.2,343.5Z"/>
<path class="t" d="M1026.2,353.5 L1031.2,353.5 M1021,358.5 L1026,358.5 M1015.8,353.5 L1020.8,353.5 M1015.8,343.5 L1020.8,343.5 M1021,338.5 L1026,338.5 M1026.2,343.5 L1031.2,343.5"/>
<ellipse class="m" cx="1020.4" cy="348.5" rx="2.25" ry="3.75"/>
<path class="w m" d="M1127.59,325.39 L1087.47,333.32 A1.41,4.7 168.82 0 0 1089.29,342.54 L1129.41,334.61Z"/>
<ellipse class="t" cx="1088.38" cy="337.93" rx="1.06" ry="3.38" transform="rotate(168.82 1088.38 337.93)"/>
<path class="t" d="M1119.29,327.03 Q1118.4,332 1121.11,336.25 M1114.74,327.93 Q1113.86,332.89 1116.57,337.15 M1110.2,328.83 Q1109.31,333.79 1112.02,338.05 M1105.65,329.72 Q1104.77,334.69 1107.48,338.95 M1101.11,330.62 Q1100.22,335.59 1102.93,339.84 M1096.56,331.52 Q1095.68,336.49 1098.38,340.74 M1092.02,332.42 Q1091.13,337.38 1093.84,341.64"/>
<path class="w m" d="M1126.87,321.76 L1135.37,320.94 L1138.3,335.77 L1130.13,338.24Z"/>
<path class="t" d="M1127.93,327.12 L1136.35,325.88 M1129.23,333.71 L1137.49,331.65"/>
<ellipse class="w m" cx="1128.5" cy="330" rx="2.94" ry="10.5" transform="rotate(168.82 1128.5 330)"/>
<path class="w m" d="M1134.5,453 L1141.5,454 Q1145,463 1142,473 L1134.5,474.5Z"/>
<path class="t" d="M1135,459 L1143.7,458 M1135,468.5 L1143.6,469"/>
<ellipse class="w m" cx="1132.5" cy="463.5" rx="4" ry="12"/>
<ellipse class="t" cx="1132.3" cy="464" rx="1.6" ry="5"/>
<path class="w m" d="M757.05,432.62 L752.17,437.72 L744.44,434.79 L741.59,426.77 L746.47,421.67 L754.2,424.6Z"/>
<path class="w m" d="M753.68,435.45 L748.8,440.55 L741.07,437.62 L738.22,429.6 L743.1,424.5 L750.83,427.43Z"/>
<ellipse class="w b" cx="743" cy="435" rx="8.8" ry="11" transform="rotate(-40 743 435)"/>
<ellipse cx="742.23" cy="435.64" rx="2.82" ry="3.52" transform="rotate(-40 742.23 435.64)"/>
<path class="w m" d="M838.6,506.92 L835.72,510.05 L831.17,508.3 L829.51,503.4 L832.39,500.27 L836.94,502.02Z"/>
<path class="w m" d="M836.44,508.43 L833.55,511.57 L829.01,509.81 L827.35,504.92 L830.23,501.78 L834.77,503.54Z"/>
<ellipse class="w b" cx="830" cy="508" rx="5.28" ry="6.6" transform="rotate(-35 830 508)"/>
<ellipse cx="829.18" cy="508.57" rx="1.74" ry="2.18" transform="rotate(-35 829.18 508.57)"/>
<path class="w m" d="M656.51,497.19 L680.66,483.16 L684.22,478.68 L685.38,476.91 L684.62,475.59 L682.5,475.73 L676.85,476.59 L652.69,490.61Z"/>
<path class="t" d="M665.02,492.24 Q665.25,487.72 661.2,485.67 M667.63,490.73 Q667.86,486.2 663.81,484.16 M670.23,489.22 Q670.46,484.69 666.42,482.64 M672.84,487.7 Q673.07,483.18 669.03,481.13 M675.45,486.19 Q675.68,481.66 671.63,479.62 M678.06,484.68 Q678.28,480.15 674.24,478.1 M680.66,483.16 Q680.89,478.63 676.85,476.59"/>
<ellipse class="w m" cx="656.65" cy="492.71" rx="9.72" ry="10.8" transform="rotate(-30.14 656.65 492.71)"/>
<ellipse class="w m" cx="654.13" cy="494.17" rx="9.72" ry="10.8" transform="rotate(-30.14 654.13 494.17)"/>
<path class="w m" d="M659.86,498.61 L654.47,502.45 L648.18,499.14 L647.27,491.98 L652.66,488.14 L658.95,491.45Z"/>
<path class="w m" d="M658.59,500.31 L653.21,504.16 L646.92,500.84 L646.01,493.69 L651.39,489.84 L657.68,493.16Z"/>
<path class="t" d="M658.59,500.31 L659.86,498.61 M653.21,504.16 L654.47,502.45 M646.92,500.84 L648.18,499.14 M646.01,493.69 L647.27,491.98 M651.39,489.84 L652.66,488.14 M657.68,493.16 L658.95,491.45"/>
<path class="t" d="M658.59,500.31 L652.3,497 L646.92,500.84 M652.3,497 L651.39,489.84"/>
<ellipse class="w m" cx="959.92" cy="495.22" rx="6.4" ry="10.32" transform="rotate(145.78 959.92 495.22)"/>
<path class="w" d="M954.12,486.68 L946.2,492.07 L957.8,509.13 L965.72,503.75"/>
<path class="m" d="M954.12,486.68 L946.2,492.07 M965.72,503.75 L957.8,509.13"/>
<path class="t" d="M955.36,492.7 L961.62,488.45"/>
<path class="t" d="M960.73,500.9 L966.99,496.65"/>
<ellipse class="w m" cx="954.29" cy="499.04" rx="7.44" ry="12" transform="rotate(145.78 954.29 499.04)"/>
<ellipse class="w m" cx="952" cy="500.6" rx="7.44" ry="12" transform="rotate(145.78 952 500.6)"/>
<ellipse class="t" cx="951.59" cy="500.88" rx="3.75" ry="6.05" transform="rotate(145.78 951.59 500.88)"/>
<path class="w m" d="M949.33,496.67 L919.26,517.12 A2.94,4.75 145.78 0 0 924.61,524.97 L954.67,504.53Z"/>
<ellipse class="t" cx="921.94" cy="521.04" rx="2.21" ry="3.42" transform="rotate(145.78 921.94 521.04)"/>
<path class="t" d="M944.45,499.99 Q943.96,506.07 949.8,507.84 M941.31,502.13 Q940.81,508.21 946.65,509.98 M938.16,504.27 Q937.66,510.35 943.5,512.13 M935.01,506.41 Q934.51,512.49 940.35,514.27 M931.86,508.55 Q931.36,514.63 937.2,516.41 M928.71,510.69 Q928.22,516.77 934.05,518.55 M925.56,512.83 Q925.07,518.91 930.9,520.69 M922.41,514.97 Q921.92,521.06 927.75,522.83"/>
<path class="w m" d="M804.86,645.58 L843.3,642.07 L848.67,639.37 L850.57,638.2 L850.43,636.6 L848.34,635.79 L842.57,634.11 L804.14,637.62Z"/>
<path class="t" d="M814.06,644.74 Q815.25,640.62 813.34,636.78 M817.31,644.45 Q818.5,640.32 816.58,636.48 M820.56,644.15 Q821.75,640.03 819.83,636.18 M823.81,643.85 Q825,639.73 823.08,635.89 M827.06,643.56 Q828.25,639.43 826.33,635.59 M830.3,643.26 Q831.49,639.14 829.58,635.29 M833.55,642.96 Q834.74,638.84 832.82,635 M836.8,642.67 Q837.99,638.54 836.07,634.7 M840.05,642.37 Q841.24,638.25 839.32,634.4 M843.3,642.07 Q844.49,637.95 842.57,634.11"/>
<path class="w m" d="M805.21,649.37 L797.17,649.32 L795.89,635.34 L803.79,633.83Z"/>
<path class="t" d="M804.75,644.32 L796.75,644.66 M804.18,638.1 L796.25,639.22"/>
<ellipse class="w m" cx="804.5" cy="641.6" rx="2.94" ry="10.5" transform="rotate(-5.22 804.5 641.6)"/>
<ellipse class="w m" cx="783.68" cy="700.01" rx="5.89" ry="9.5" transform="rotate(25.71 783.68 700.01)"/>
<ellipse class="w m" cx="786.25" cy="701.25" rx="5.89" ry="9.5" transform="rotate(25.71 786.25 701.25)"/>
<path class="w m" d="M784.47,704.94 L815.93,720.09 A2.54,4.1 25.71 0 0 819.49,712.7 L788.03,697.56Z"/>
<ellipse class="t" cx="817.71" cy="716.4" rx="1.91" ry="2.95" transform="rotate(25.71 817.71 716.4)"/>
<path class="t" d="M803.03,713.88 Q807.79,711.62 806.59,706.49 M805.61,715.12 Q810.37,712.86 809.17,707.74 M808.19,716.37 Q812.95,714.1 811.75,708.98 M810.77,717.61 Q815.53,715.35 814.33,710.22 M813.35,718.85 Q818.11,716.59 816.91,711.46"/>
<ellipse class="w m" cx="487.42" cy="806.46" rx="6.08" ry="9.8" transform="rotate(151.84 487.42 806.46)"/>
<path class="w" d="M482.79,797.81 L474.77,802.11 L484.03,819.39 L492.05,815.1"/>
<path class="m" d="M482.79,797.81 L474.77,802.11 M492.05,815.1 L484.03,819.39"/>
<path class="t" d="M483.37,803.62 L489.7,800.23"/>
<path class="t" d="M487.62,811.91 L493.95,808.52"/>
<ellipse class="w m" cx="481.72" cy="809.51" rx="7.07" ry="11.4" transform="rotate(151.84 481.72 809.51)"/>
<ellipse class="w m" cx="479.4" cy="810.75" rx="7.07" ry="11.4" transform="rotate(151.84 479.4 810.75)"/>
<ellipse class="t" cx="478.96" cy="810.99" rx="3.78" ry="6.1" transform="rotate(151.84 478.96 810.99)"/>
<path class="w m" d="M477.14,806.52 L445.66,823.36 A2.98,4.8 151.84 0 0 450.19,831.83 L481.66,814.98Z"/>
<ellipse class="t" cx="447.92" cy="827.6" rx="2.23" ry="3.46" transform="rotate(151.84 447.92 827.6)"/>
<path class="t" d="M468.61,811.08 Q467.46,817.14 473.14,819.54 M465.33,812.84 Q464.19,818.89 469.86,821.3 M462.05,814.59 Q460.91,820.65 466.58,823.05 M458.77,816.34 Q457.63,822.4 463.3,824.81 M455.5,818.1 Q454.35,824.16 460.03,826.56 M452.22,819.85 Q451.07,825.91 456.75,828.32 M448.94,821.61 Q447.79,827.67 453.47,830.07"/>
<ellipse class="w m" cx="684.7" cy="815.82" rx="8.26" ry="13.33" transform="rotate(157.14 684.7 815.82)"/>
<path class="w" d="M679.53,803.54 L670.57,807.32 L680.93,831.88 L689.88,828.11"/>
<path class="m" d="M679.53,803.54 L670.57,807.32 M689.88,828.11 L680.93,831.88"/>
<path class="t" d="M681.63,810.61 L688.7,807.63"/>
<path class="t" d="M686.35,822.36 L693.42,819.38"/>
<ellipse class="w m" cx="678.34" cy="818.51" rx="9.61" ry="15.5" transform="rotate(157.14 678.34 818.51)"/>
<ellipse class="w m" cx="675.75" cy="819.6" rx="9.61" ry="15.5" transform="rotate(157.14 675.75 819.6)"/>
<ellipse class="t" cx="675.29" cy="819.79" rx="3.78" ry="6.1" transform="rotate(157.14 675.29 819.79)"/>
<path class="w m" d="M673.88,815.18 L625.88,835.42 A2.98,4.8 157.14 0 0 629.61,844.27 L677.62,824.02Z"/>
<ellipse class="t" cx="627.74" cy="839.84" rx="2.23" ry="3.46" transform="rotate(157.14 627.74 839.84)"/>
<path class="t" d="M648.51,825.88 Q646.81,831.8 652.24,834.72 M644.74,827.47 Q643.04,833.39 648.47,836.31 M640.97,829.06 Q639.27,834.98 644.7,837.9 M637.19,830.65 Q635.49,836.58 640.92,839.49 M633.42,832.24 Q631.72,838.17 637.15,841.09 M629.65,833.83 Q627.95,839.76 633.38,842.68"/>
<ellipse class="w m" cx="902.12" cy="930.56" rx="6.4" ry="10.32" transform="rotate(162.15 902.12 930.56)"/>
<path class="w" d="M898.95,920.74 L889.84,923.68 L896.16,943.32 L905.28,940.39"/>
<path class="m" d="M898.95,920.74 L889.84,923.68 M905.28,940.39 L896.16,943.32"/>
<path class="t" d="M898.45,926.86 L905.65,924.55"/>
<path class="t" d="M901.3,936.25 L908.49,933.93"/>
<ellipse class="w m" cx="895.64" cy="932.65" rx="7.44" ry="12" transform="rotate(162.15 895.64 932.65)"/>
<ellipse class="w m" cx="893" cy="933.5" rx="7.44" ry="12" transform="rotate(162.15 893 933.5)"/>
<ellipse class="t" cx="892.52" cy="933.65" rx="3.47" ry="5.6" transform="rotate(162.15 892.52 933.65)"/>
<path class="w m" d="M891.68,929.41 L840.46,945.9 L835.45,950 L833.74,951.68 L834.26,953.32 L836.64,953.68 L843.09,954.09 L894.32,937.59Z"/>
<path class="t" d="M863.36,938.53 Q861.38,943.68 866,946.71 M859.54,939.76 Q857.56,944.91 862.18,947.94 M855.73,940.99 Q853.75,946.14 858.36,949.17 M851.91,942.21 Q849.93,947.37 854.55,950.4 M848.09,943.44 Q846.11,948.6 850.73,951.63 M844.28,944.67 Q842.29,949.83 846.91,952.86 M840.46,945.9 Q838.48,951.06 843.09,954.09"/>
<path class="w m" d="M540.45,870.15 L536.68,877.32 L528.69,877.05 L524.47,869.63 L528.24,862.46 L536.22,862.72Z"/>
<path class="w m" d="M538.49,871.06 L534.72,878.23 L526.73,877.97 L522.51,870.54 L526.28,863.37 L534.27,863.63Z"/>
<path class="t" d="M538.49,871.06 L540.45,870.15 M534.72,878.23 L536.68,877.32 M526.73,877.97 L528.69,877.05 M522.51,870.54 L524.47,869.63 M526.28,863.37 L528.24,862.46 M534.27,863.63 L536.22,862.72"/>
<ellipse class="t" cx="530.5" cy="870.8" rx="6.29" ry="6.84" transform="rotate(-25 530.5 870.8)"/>
<ellipse class="m" cx="529.96" cy="871.05" rx="2.98" ry="3.24" transform="rotate(-25 529.96 871.05)"/>
<ellipse class="w" style="stroke:none" cx="550.25" cy="860" rx="9" ry="13.75"/>
<path class="b" d="M542.88,852.11 A9,13.75 0 1 1 542.46,866.88"/>
<ellipse cx="549.25" cy="863" rx="1.8" ry="2.25"/>
<ellipse class="w m" cx="433.54" cy="939.82" rx="9.9" ry="11" transform="rotate(-33 433.54 939.82)"/>
<path class="w" d="M440.05,941.86 L435.71,947.36 L428.6,945.72 L425.82,938.57 L430.16,933.08 L437.27,934.72Z"/>
<path class="w m" d="M437.61,943.44 L433.28,948.94 L426.17,947.3 L423.39,940.16 L427.72,934.66 L434.83,936.3Z"/>
<path class="t" d="M437.61,943.44 L440.05,941.86 M433.28,948.94 L435.71,947.36 M426.17,947.3 L428.6,945.72 M423.39,940.16 L425.82,938.57 M427.72,934.66 L430.16,933.08 M434.83,936.3 L437.27,934.72"/>
<ellipse class="m" cx="430" cy="942.13" rx="3.37" ry="3.74" transform="rotate(-33 430 942.13)"/>
<ellipse class="w m" cx="707.53" cy="994.25" rx="9.54" ry="10.6" transform="rotate(-30 707.53 994.25)"/>
<path class="w" d="M713.74,996.17 L709.57,1001.51 L702.76,999.94 L700.11,993.03 L704.27,987.69 L711.09,989.27Z"/>
<path class="w m" d="M711.32,997.57 L707.15,1002.91 L700.33,1001.34 L697.68,994.43 L701.85,989.09 L708.67,990.66Z"/>
<path class="t" d="M711.32,997.57 L713.74,996.17 M707.15,1002.91 L709.57,1001.51 M700.33,1001.34 L702.76,999.94 M697.68,994.43 L700.11,993.03 M701.85,989.09 L704.27,987.69 M708.67,990.66 L711.09,989.27"/>
<ellipse class="m" cx="703.98" cy="996.3" rx="3.24" ry="3.6" transform="rotate(-30 703.98 996.3)"/>
<path class="w m" d="M1042.5,654.4 L1057.5,661.9 L1060,656.9 L1045,649.4Z"/>
<path class="t" d="M1046.08,656.19 L1049.3,651.54 M1047.86,657.09 L1051.08,652.44 M1049.65,657.98 L1052.87,653.33 M1051.44,658.88 L1054.66,654.23 M1053.23,659.77 L1056.45,655.12 M1055.02,660.67 L1058.24,656.01 M1056.81,661.56 L1060.03,656.91"/>
<path class="w m" d="M1041.42,656.55 L1045.61,658.64 L1050.26,649.34 L1046.08,647.25Z"/>
<ellipse class="w m" cx="1043.75" cy="651.9" rx="3.12" ry="5.2" transform="rotate(26.57 1043.75 651.9)"/>
<ellipse class="t" cx="1043.75" cy="651.9" rx="1.56" ry="2.6" transform="rotate(26.57 1043.75 651.9)"/>
<path class="w m" d="M733.54,798.52 L746.04,792.77 L743.96,788.23 L731.46,793.98Z"/>
<path class="t" d="M737.18,796.85 L735.82,791.97 M739,796.01 L737.63,791.14 M740.81,795.18 L739.45,790.3 M742.63,794.34 L741.27,789.47 M744.45,793.51 L743.08,788.63"/>
<path class="w m" d="M734.51,800.61 L738.43,798.81 L734.42,790.08 L730.49,791.89Z"/>
<ellipse class="w m" cx="732.5" cy="796.25" rx="2.88" ry="4.8" transform="rotate(-24.7 732.5 796.25)"/>
<ellipse class="t" cx="732.5" cy="796.25" rx="1.44" ry="2.4" transform="rotate(-24.7 732.5 796.25)"/>
<ellipse class="w m" cx="575.25" cy="1138.2" rx="9" ry="4.6"/>
<ellipse class="w m" cx="575.25" cy="1137" rx="9" ry="4.3"/>
<path class="w m" d="M569.45,1136 L569.45,1128 Q575.25,1124.5 581.05,1128 L581.05,1136 Q575.25,1139.5 569.45,1136Z"/>
<path class="t" d="M569.45,1129 Q575.25,1132.5 581.05,1129 M573.25,1130.7 L573.25,1137.7 M578.25,1130.4 L578.25,1137.3"/>
<ellipse class="t" cx="575.25" cy="1127.7" rx="3.6" ry="1.7"/>
<ellipse class="w m" cx="682.1" cy="1169.7" rx="9" ry="4.6"/>
<ellipse class="w m" cx="682.1" cy="1168.5" rx="9" ry="4.3"/>
<path class="w m" d="M676.3,1167.5 L676.3,1159.5 Q682.1,1156 687.9,1159.5 L687.9,1167.5 Q682.1,1171 676.3,1167.5Z"/>
<path class="t" d="M676.3,1160.5 Q682.1,1164 687.9,1160.5 M680.1,1162.2 L680.1,1169.2 M685.1,1161.9 L685.1,1168.8"/>
<ellipse class="t" cx="682.1" cy="1159.2" rx="3.6" ry="1.7"/>
<ellipse class="w m" cx="540.8" cy="1185.7" rx="9" ry="4.6"/>
<ellipse class="w m" cx="540.8" cy="1184.5" rx="9" ry="4.3"/>
<path class="w m" d="M535,1183.5 L535,1175.5 Q540.8,1172 546.6,1175.5 L546.6,1183.5 Q540.8,1187 535,1183.5Z"/>
<path class="t" d="M535,1176.5 Q540.8,1180 546.6,1176.5 M538.8,1178.2 L538.8,1185.2 M543.8,1177.9 L543.8,1184.8"/>
<ellipse class="t" cx="540.8" cy="1175.2" rx="3.6" ry="1.7"/>
<g filter="url(#gs)">
<text x="744.5" y="249">8</text>
<text x="770.5" y="242.7">9</text>
<text x="864.5" y="328.8">6</text>
<text x="960.5" y="341.3">10</text>
<text x="1022.5" y="306.3">3</text>
<text x="1124.5" y="285.8">2</text>
<text x="1115" y="403.8">1</text>
<text x="697" y="380.5">7</text>
<text x="746.25" y="395.8">3</text>
<text x="905" y="468.8">11</text>
<text x="784.5" y="457.5">28</text>
<text x="832" y="476.3">30</text>
<text x="1137" y="518.5">5</text>
<text x="650.75" y="571.3">2</text>
<text x="955" y="574.3">31</text>
<text x="797.5" y="570.8">18</text>
<text x="737" y="607">29</text>
<text x="756.25" y="650.5">4</text>
<text x="1096" y="629.4">22</text>
<text x="1135" y="675">23</text>
<text x="736.25" y="709.3">25</text>
<text x="762" y="751.3">21</text>
<text x="730.5" y="763.3">22</text>
<text x="482.5" y="763.8">16</text>
<text x="650.75" y="786.3">13</text>
<text x="529.25" y="830">9</text>
<text x="549.25" y="810">8</text>
<text x="801.75" y="890.5">20</text>
<text x="905.5" y="885">19</text>
<text x="1011.25" y="885">24</text>
<text x="1109" y="942.3">26</text>
<text x="1199" y="942.3">27</text>
<text x="432" y="1003.8">17</text>
<text x="631.25" y="1006.3">12</text>
<text x="878" y="987">14</text>
<text x="707" y="1041">15</text>
<text x="452" y="1100">32</text>
<text x="638.7" y="1144">33</text>
<text x="742.2" y="1171.5">33</text>
<text x="480" y="1190.8">33</text>
</g>
</svg>
</body></html>
